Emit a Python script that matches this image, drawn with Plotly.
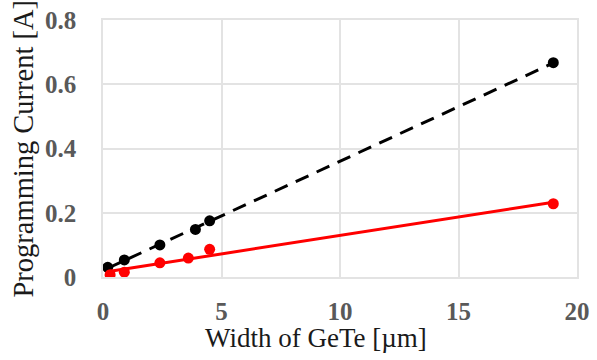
import numpy as np
import plotly.graph_objects as go

# Data
width_black = [0.2, 0.9, 2.4, 3.9, 4.5, 19.0]
current_black = [0.030, 0.053, 0.100, 0.148, 0.175, 0.667]
width_red = [0.3, 0.9, 2.4, 3.6, 4.5, 19.0]
current_red = [0.007, 0.015, 0.044, 0.059, 0.086, 0.228]

x_ticks = [0, 5, 10, 15, 20]
y_ticks = [0, 0.2, 0.4, 0.6, 0.8]
y_tick_text = ["0", "0.2", "0.4", "0.6", "0.8"]

def fit(xs, ys):
    k, b = np.polyfit(xs, ys, 1)
    xx = [min(xs), max(xs)]
    return xx, [k * v + b for v in xx]

fig = go.Figure()
fx, fy = fit(width_black, current_black)
fig.add_trace(go.Scatter(x=fx, y=fy, mode="lines",
                         line=dict(color="black", width=3, dash="14px,9px"),
                         showlegend=False, hoverinfo="skip"))
fig.add_trace(go.Scatter(x=width_black, y=current_black, mode="markers",
                         marker=dict(color="black", size=11), showlegend=False))
fx, fy = fit(width_red, current_red)
fig.add_trace(go.Scatter(x=fx, y=fy, mode="lines",
                         line=dict(color="#ff0000", width=3),
                         showlegend=False, hoverinfo="skip"))
fig.add_trace(go.Scatter(x=width_red, y=current_red, mode="markers",
                         marker=dict(color="#ff0000", size=11), showlegend=False))

grid = "#e3e3e3"
tickfont = dict(family="Liberation Serif", size=25, color="#595959", weight="bold")
fig.update_layout(
    width=597, height=360,
    margin=dict(l=103, r=14, t=7, b=83),
    paper_bgcolor="white", plot_bgcolor="white",
    font=dict(family="Liberation Serif", color="#262626"),
    annotations=[
        dict(text="Width of GeTe [µm]", xref="paper", yref="paper", x=0.45, y=0,
             xanchor="center", yanchor="middle", yshift=-61, showarrow=False,
             font=dict(family="Liberation Serif", size=27, color="#1a1a1a")),
        dict(text="Programming Current [A]", xref="paper", yref="paper", x=0, y=0.5,
             xanchor="center", yanchor="middle", xshift=-80, textangle=-90,
             showarrow=False,
             font=dict(family="Liberation Serif", size=28.5, color="#1a1a1a")),
    ],
)
fig.update_xaxes(range=[0, 20], tickvals=x_ticks, showgrid=True, gridcolor=grid,
                 gridwidth=1.5, zeroline=False, showline=True, linecolor=grid,
                 linewidth=1.5, mirror=True, ticks="", tickfont=tickfont,
                 ticklabelstandoff=11, ticklabeloverflow="allow")
fig.update_yaxes(range=[0, 0.8], tickvals=y_ticks, ticktext=y_tick_text, showgrid=True,
                 gridcolor=grid, gridwidth=1.5, zeroline=False, showline=True,
                 linecolor=grid, linewidth=1.5, mirror=True, ticks="", tickfont=tickfont,
                 ticklabelstandoff=20, ticklabeloverflow="allow")

fig.write_html("out.html")
